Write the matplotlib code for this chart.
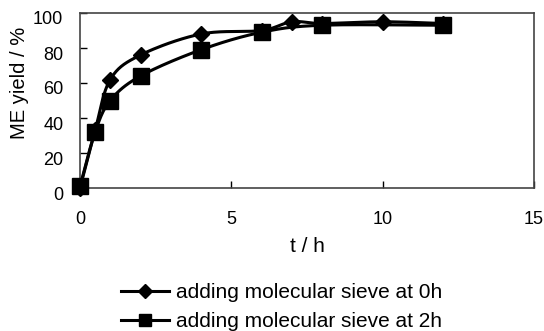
import numpy as np
import matplotlib
matplotlib.use("Agg")
import matplotlib.pyplot as plt
from matplotlib.transforms import ScaledTranslation
from matplotlib.lines import Line2D

# ---- data ----
t_0h = [0, 0.5, 1, 2, 4, 6, 7, 8, 10, 12]
y_0h = [0, 33, 62, 76, 88, 90, 95, 94, 95, 94]
t_2h = [0, 0.5, 1, 2, 4, 6, 8, 12]
y_2h = [1, 32, 50, 64, 79, 89, 93, 93]
label_0h = "adding molecular sieve at 0h"
label_2h = "adding molecular sieve at 2h"
xticks = [0, 5, 10, 15]
yticks = [0, 20, 40, 60, 80, 100]

plt.rcParams['font.family'] = ['Liberation Sans', 'DejaVu Sans']


def smooth(x, y, n=20):
    """Catmull-Rom curve through the points (rendering of a smoothed line)."""
    x = np.asarray(x, float); y = np.asarray(y, float)
    P = np.column_stack([x, y])
    P = np.vstack([P[0] - (P[1] - P[0]), P, P[-1] + (P[-1] - P[-2])])
    out = []
    for i in range(1, len(P) - 2):
        p0, p1, p2, p3 = P[i - 1], P[i], P[i + 1], P[i + 2]
        s = np.linspace(0, 1, n, endpoint=False)[:, None]
        pts = 0.5 * ((2 * p1) + (-p0 + p2) * s + (2 * p0 - 5 * p1 + 4 * p2 - p3) * s ** 2
                     + (-p0 + 3 * p1 - 3 * p2 + p3) * s ** 3)
        out.append(pts)
    out.append(P[-2][None, :])
    c = np.vstack(out)
    return c[:, 0], c[:, 1]


fig = plt.figure(figsize=(5.44, 3.31), dpi=100)
ax = fig.add_axes([80 / 544, 1 - 188 / 331, (534 - 80) / 544, (188 - 13) / 331])

lw = 2.2
sx, sy = smooth(t_0h, y_0h)
ax.plot(sx, sy, color='black', lw=lw, zorder=3, clip_on=False)
ax.plot(t_0h, y_0h, linestyle='none', marker='D', markersize=8.5, color='black',
        zorder=4, clip_on=False)
sx, sy = smooth(t_2h, y_2h)
ax.plot(sx, sy, color='black', lw=lw, zorder=3, clip_on=False)
ax.plot(t_2h, y_2h, linestyle='none', marker='s', markersize=12, color='black',
        zorder=5, clip_on=False)

ax.set_xlim(0, 15)
ax.set_ylim(0, 100)
ax.set_xticks(xticks)
ax.set_yticks(yticks)
ax.tick_params(direction='in', length=5, width=1, labelsize=13, colors='black')
ax.tick_params(axis='x', pad=16.5)
ax.tick_params(axis='y', pad=12)
for lbl in ax.get_yticklabels():
    lbl.set_transform(lbl.get_transform() + ScaledTranslation(0, -5 / 100, fig.dpi_scale_trans))
for s in ax.spines.values():
    s.set_color('#444444')
    s.set_linewidth(1.2)

ax.set_xlabel('t / h', fontsize=15, va='top')
ax.xaxis.set_label_coords(0.5, -0.28)
ax.set_ylabel('ME yield / %', fontsize=14.5)
ax.yaxis.set_label_coords(-0.112, 0.6)

h1 = Line2D([], [], color='black', lw=lw, marker='D', markersize=7)
h2 = Line2D([], [], color='black', lw=lw, marker='s', markersize=8)
fig.legend([h1, h2], [label_0h, label_2h], loc='upper left',
           bbox_to_anchor=(121 / 544, 1 - 283 / 331), frameon=False,
           fontsize=15, handlelength=2.3, handletextpad=0.33, labelspacing=0.5,
           borderaxespad=0, borderpad=0)

fig.savefig('out.png', dpi=100)
